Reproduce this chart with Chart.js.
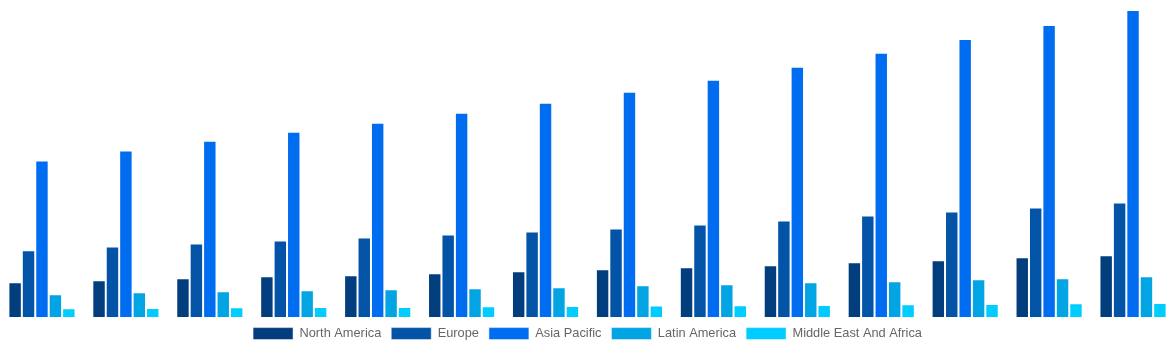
<!DOCTYPE html>
<html lang="en">
<head>
    <meta charset="UTF-8">
    <title>Regional Market Size</title>
    <script src="https://cdn.jsdelivr.net/npm/chart.js@4.4.0/dist/chart.umd.min.js"></script>
    <style>
        html, body { margin: 0; padding: 0; background: #fff; }
        #wrap { width: 1175px; height: 350px; }
    </style>
</head>
<body>
    <div id="wrap"><canvas id="chart"></canvas></div>

    <script>
        // categories (years, axis hidden in the original)
        const years = ['2019', '2020', '2021', '2022', '2023', '2024', '2025',
                       '2026', '2027', '2028', '2029', '2030', '2031', '2032'];

        const northAmerica = [3.5, 3.7, 3.9, 4.1, 4.2, 4.4, 4.6, 4.8, 5.0, 5.2, 5.5, 5.7, 6.0, 6.2];
        const europe       = [6.7, 7.1, 7.4, 7.7, 8.0, 8.3, 8.6, 8.9, 9.3, 9.7, 10.2, 10.6, 11.0, 11.5];
        const asiaPacific  = [15.7, 16.7, 17.7, 18.6, 19.5, 20.5, 21.5, 22.6, 23.8, 25.1, 26.5, 27.9, 29.3, 30.8];
        const latinAmerica = [2.3, 2.5, 2.6, 2.7, 2.8, 2.9, 3.0, 3.2, 3.3, 3.5, 3.6, 3.8, 3.9, 4.1];
        const middleEastAfrica = [0.9, 0.93, 1.0, 1.03, 1.03, 1.1, 1.13, 1.17, 1.2, 1.23, 1.3, 1.33, 1.4, 1.43];

        const seriesNames = ['North America', 'Europe', 'Asia Pacific', 'Latin America', 'Middle East And Africa'];
        const seriesColors = ['#023E7D', '#0353A6', '#006DF0', '#03A4E3', '#00CCFF'];
        const seriesData = [northAmerica, europe, asiaPacific, latinAmerica, middleEastAfrica];

        const datasets = seriesNames.map((name, i) => ({
            label: name,
            data: seriesData[i],
            backgroundColor: seriesColors[i],
            borderColor: 'rgba(255, 255, 255, 0.5)',
            borderWidth: 1,
            categoryPercentage: 0.8,
            barPercentage: 1.0
        }));

        new Chart(document.getElementById('chart'), {
            type: 'bar',
            data: { labels: years, datasets },
            options: {
                responsive: true,
                maintainAspectRatio: false,
                animation: false,
                layout: { padding: 0 },
                plugins: {
                    legend: {
                        position: 'bottom',
                        labels: {
                            boxWidth: 40,
                            boxHeight: 12,
                            padding: 10,
                            color: '#666',
                            font: { size: 12.8, lineHeight: 1.1, family: 'Arial, "Liberation Sans", sans-serif' }
                        }
                    },
                    tooltip: { enabled: false }
                },
                scales: {
                    x: { display: false, grid: { display: false } },
                    y: { display: false, min: 0, max: 31.8, grid: { display: false } }
                }
            }
        });
    </script>
</body>
</html>
